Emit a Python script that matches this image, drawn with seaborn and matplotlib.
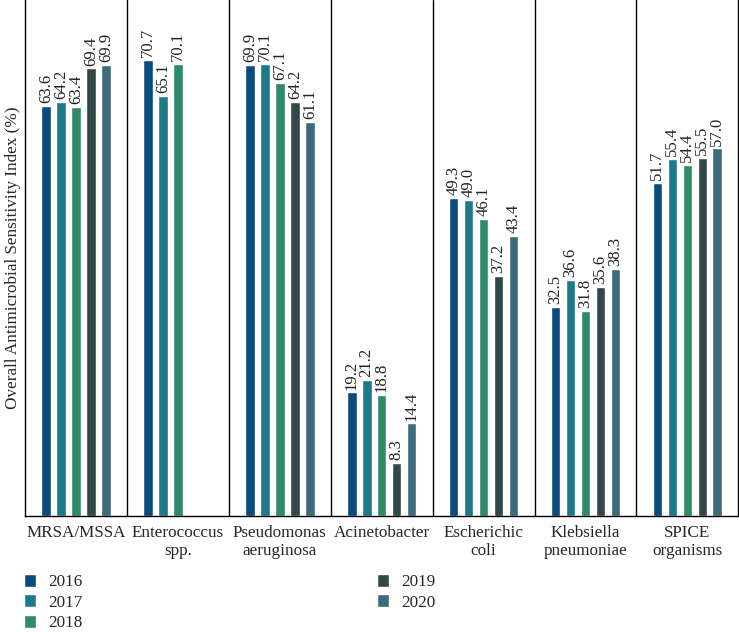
import numpy as np
import pandas as pd
import matplotlib
matplotlib.use("Agg")
import matplotlib.pyplot as plt
import seaborn as sns

# data
organisms = ["MRSA/MSSA", "Enterococcus\nspp.", "Pseudomonas\naeruginosa", "Acinetobacter",
             "Escherichic\ncoli", "Klebsiella\npneumoniae", "SPICE\norganisms"]
years = ["2016", "2017", "2018", "2019", "2020"]
v2016 = [63.6, 70.7, 69.9, 19.2, 49.3, 32.5, 51.7]
v2017 = [64.2, 65.1, 70.1, 21.2, 49.0, 36.6, 55.4]
v2018 = [63.4, 70.1, 67.1, 18.8, 46.1, 31.8, 54.4]
v2019 = [69.4, np.nan, 64.2, 8.3, 37.2, 35.6, 55.5]
v2020 = [69.9, np.nan, 61.1, 14.4, 43.4, 38.3, 57.0]
colors = ["#0b4b7c", "#1d7a8a", "#2e8a68", "#324848", "#3d6b7b"]

rows = []
for yr, vals in zip(years, [v2016, v2017, v2018, v2019, v2020]):
    for org, v in zip(organisms, vals):
        rows.append({"organism": org, "year": yr, "value": v})
df = pd.DataFrame(rows).dropna()

sns.set_theme(style="white")
plt.rcParams["font.family"] = ["Liberation Serif", "DejaVu Serif"]

fig = plt.figure(figsize=(7.39, 6.32), dpi=100)
ax = fig.add_axes([0.034, 0.183, 0.965, 0.817])

sns.barplot(data=df, x="organism", y="value", hue="year", order=organisms,
            hue_order=years, palette=colors, width=0.735, gap=0.36,
            saturation=1, ax=ax, legend=True)

for cont in ax.containers:
    ax.bar_label(cont, fmt="%.1f", rotation=90, padding=2, fontsize=12, color="#222222")

ax.set_ylim(0, 80)
ax.set_xlim(-0.5, len(organisms) - 0.5)
ax.set_yticks([])
ax.set_xlabel("")
ax.set_ylabel("Overall Antimicrobial Sensitivity Index (%)", fontsize=12.3, labelpad=3)
ax.tick_params(axis="x", length=0, labelsize=12.3, pad=6)
for i in range(1, len(organisms)):
    ax.axvline(i - 0.5, color="black", lw=1)
for s in ["left", "right", "bottom"]:
    ax.spines[s].set_color("black")
    ax.spines[s].set_linewidth(1)
ax.spines["top"].set_visible(False)

handles, labels = ax.get_legend_handles_labels()
ax.get_legend().remove()
fig.legend(handles, labels, loc="upper left", bbox_to_anchor=(0.032, 0.092),
           ncol=2, frameon=False, fontsize=12.3, handlelength=0.75, handleheight=0.8,
           columnspacing=17.2, labelspacing=0.24, handletextpad=0.7,
           borderpad=0, borderaxespad=0)

fig.savefig("out.png", dpi=100)
